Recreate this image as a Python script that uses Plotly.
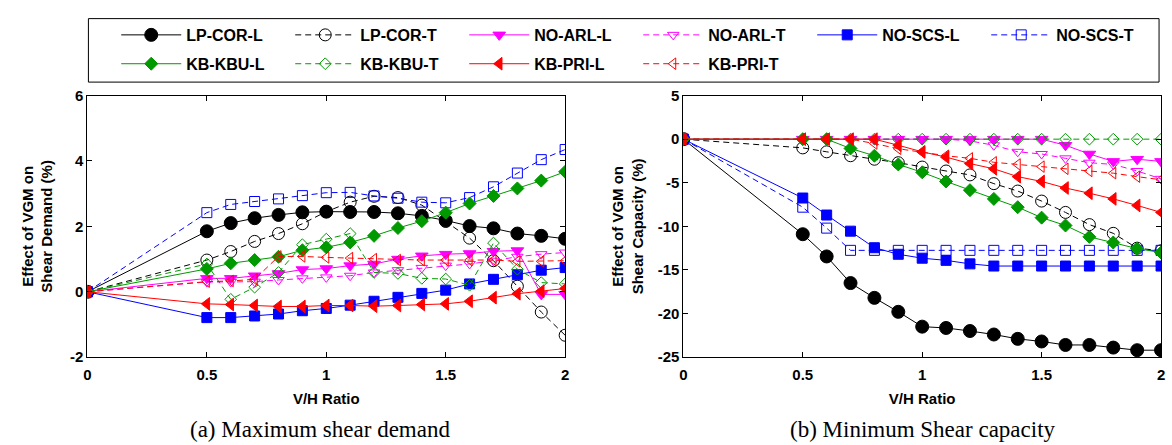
import plotly.graph_objects as go

# ---------------- data ----------------
vh = [0, 0.5, 0.6, 0.7, 0.8, 0.9, 1.0, 1.1, 1.2, 1.3, 1.4, 1.5, 1.6, 1.7, 1.8, 1.9, 2.0]

names = ["LP-COR-L", "LP-COR-T", "NO-ARL-L", "NO-ARL-T", "NO-SCS-L", "NO-SCS-T",
         "KB-KBU-L", "KB-KBU-T", "KB-PRI-L", "KB-PRI-T"]

x_ticks = [0, 0.5, 1, 1.5, 2]
demand_ticks = [-2, 0, 2, 4, 6]
capacity_ticks = [-25, -20, -15, -10, -5, 0, 5]

# (a) Maximum shear demand (%)
demand_lp_cor_l = [0, 1.85, 2.10, 2.25, 2.35, 2.43, 2.45, 2.44, 2.44, 2.40, 2.32, 2.18, 2.01, 1.94, 1.78, 1.71, 1.62]
demand_lp_cor_t = [0, 0.97, 1.23, 1.54, 1.78, 2.08, 2.45, 2.74, 2.92, 2.88, 2.65, 2.15, 1.64, 0.95, 0.17, -0.62, -1.33]
demand_no_arl_l = [0, 0.41, 0.41, 0.49, 0.56, 0.68, 0.71, 0.80, 0.85, 1.00, 1.10, 1.15, 1.17, 1.24, 1.26, -0.08, -0.08]
demand_no_arl_t = [0, 0.30, 0.30, 0.31, 0.36, 0.41, 0.44, 0.49, 0.59, 0.66, 0.73, 0.80, 0.85, 0.95, 1.07, 1.15, 1.20]
demand_no_scs_l = [0, -0.79, -0.79, -0.74, -0.68, -0.58, -0.51, -0.41, -0.29, -0.17, -0.05, 0.05, 0.24, 0.38, 0.52, 0.66, 0.74]
demand_no_scs_t = [0, 2.42, 2.67, 2.76, 2.84, 2.94, 3.03, 3.04, 2.93, 2.86, 2.74, 2.72, 2.88, 3.21, 3.63, 4.04, 4.35]
demand_kb_kbu_l = [0, 0.70, 0.87, 0.97, 1.07, 1.27, 1.36, 1.51, 1.71, 1.95, 2.16, 2.42, 2.70, 2.93, 3.16, 3.40, 3.67]
demand_kb_kbu_t = [0, 0.85, -0.23, 0.14, 0.59, 1.44, 1.61, 1.78, 0.59, 0.56, 0.41, 0.39, 0.20, 1.49, 0.69, 0.28, 0.24]
demand_kb_pri_l = [0, -0.37, -0.39, -0.42, -0.45, -0.45, -0.42, -0.42, -0.44, -0.42, -0.39, -0.37, -0.29, -0.18, -0.06, 0.02, 0.10]
demand_kb_pri_t = [0, 0.31, 0.33, 0.38, 1.08, 1.08, 1.05, 1.03, 1.00, 0.97, 0.97, 0.97, 0.97, 0.97, 0.93, 0.93, 0.95]

# (b) Minimum shear capacity (%)
capacity_lp_cor_l = [0, -10.9, -13.45, -16.5, -18.2, -19.8, -21.5, -21.65, -22.0, -22.4, -22.9, -23.2, -23.6, -23.6, -23.9, -24.2, -24.2]
capacity_lp_cor_t = [0, -1.0, -1.45, -1.9, -2.3, -2.7, -3.2, -3.65, -4.1, -5.1, -5.95, -7.1, -8.4, -9.8, -10.8, -12.5, -12.8]
capacity_no_arl_l = [0, 0, 0, 0, 0, 0, 0, 0, 0, 0, 0, 0, -0.7, -1.7, -2.55, -2.3, -2.55]
capacity_no_arl_t = [0, 0, 0, 0, 0, 0, 0, 0, -0.2, -0.7, -1.45, -1.7, -2.2, -2.7, -2.9, -3.65, -4.55]
capacity_no_scs_l = [0, -6.75, -8.7, -10.55, -12.45, -13.2, -13.65, -13.9, -14.3, -14.55, -14.55, -14.55, -14.55, -14.55, -14.55, -14.55, -14.55]
capacity_no_scs_t = [0, -7.8, -10.2, -12.75, -12.75, -12.75, -12.75, -12.75, -12.75, -12.75, -12.75, -12.75, -12.75, -12.75, -12.75, -12.75, -12.75]
capacity_kb_kbu_l = [0, 0, 0, -1.07, -1.9, -2.9, -3.8, -4.85, -5.85, -6.85, -7.8, -9.0, -9.9, -11.2, -11.85, -12.55, -13.0]
capacity_kb_kbu_t = [0, 0, 0, 0, 0, 0, 0, 0, 0, 0, 0, 0, 0, 0, 0, 0, 0]
capacity_kb_pri_l = [0, 0, 0, 0, 0, -0.7, -1.45, -2.06, -2.8, -3.4, -4.3, -4.85, -5.6, -6.2, -6.85, -7.6, -8.4]
capacity_kb_pri_t = [0, 0, 0, 0, -0.5, -1.1, -1.5, -1.9, -2.2, -2.65, -2.9, -3.15, -3.4, -3.65, -3.9, -4.3, -4.65]

demand = [demand_lp_cor_l, demand_lp_cor_t, demand_no_arl_l, demand_no_arl_t, demand_no_scs_l,
          demand_no_scs_t, demand_kb_kbu_l, demand_kb_kbu_t, demand_kb_pri_l, demand_kb_pri_t]
capacity = [capacity_lp_cor_l, capacity_lp_cor_t, capacity_no_arl_l, capacity_no_arl_t, capacity_no_scs_l,
            capacity_no_scs_t, capacity_kb_kbu_l, capacity_kb_kbu_t, capacity_kb_pri_l, capacity_kb_pri_t]

# ---------------- styles ----------------
colors = ["#000000", "#000000", "#ff00ff", "#ff00ff", "#0000ff", "#0000ff",
          "#009900", "#009900", "#ff0000", "#ff0000"]
symbols = ["circle", "circle-open", "triangle-down", "triangle-down-open", "square", "square-open",
           "diamond", "diamond-open", "triangle-left", "triangle-left-open"]
sizes = [13, 12, 11, 10, 10, 10, 10, 9, 11, 10]
DASH = "6px,4px"

W, H = 1172, 445
def px(x):
    return x / W
def py(y):
    return 1 - y / H

def labels(vals):
    return [f"{v:g}" for v in vals]

FONT = "Liberation Sans, Arial, sans-serif"

fig = go.Figure()

for i, nm in enumerate(names):
    dashed = nm.endswith("-T")
    line = dict(color=colors[i], width=1, dash=DASH if dashed else "solid")
    marker = dict(symbol=symbols[i], size=sizes[i], color=colors[i],
                  line=dict(color=colors[i], width=1))
    fig.add_trace(go.Scatter(x=vh, y=demand[i], name=nm, mode="lines+markers",
                             line=line, marker=marker, xaxis="x", yaxis="y",
                             legend="legend" if i < 6 else "legend2"))
for i, nm in enumerate(names):
    dashed = nm.endswith("-T")
    line = dict(color=colors[i], width=1, dash=DASH if dashed else "solid")
    marker = dict(symbol=symbols[i], size=sizes[i], color=colors[i],
                  line=dict(color=colors[i], width=1))
    fig.add_trace(go.Scatter(x=vh, y=capacity[i], name=nm, mode="lines+markers",
                             line=line, marker=marker, xaxis="x2", yaxis="y2",
                             showlegend=False))

tickfont = dict(family=FONT, size=15, color="black", weight="bold")
titlefont = dict(family=FONT, size=15, color="black", weight="bold")
legfont = dict(family=FONT, size=16, color="black", weight="bold")
axis_common = dict(showline=True, linecolor="black", linewidth=1, mirror="ticks",
                   ticks="inside", ticklen=5, tickcolor="black", showgrid=False,
                   zeroline=False, tickfont=tickfont)

fig.update_layout(
    width=W, height=H,
    margin=dict(l=0, r=0, t=0, b=0),
    paper_bgcolor="white", plot_bgcolor="white",
    xaxis=dict(domain=[px(84), px(565)], range=[0, 2], tickvals=x_ticks, ticktext=labels(x_ticks),
               ticklabelstandoff=4,
               title=dict(text="V/H Ratio", font=titlefont, standoff=11), anchor="y", **axis_common),
    yaxis=dict(domain=[py(362), py(90)], range=[-2, 6], tickvals=demand_ticks, ticktext=labels(demand_ticks),
               title=dict(text="Effect of VGM on<br>Shear Demand (%)", font=titlefont, standoff=13),
               anchor="x", **axis_common),
    xaxis2=dict(domain=[px(684), px(1165)], range=[0, 2], tickvals=x_ticks, ticktext=labels(x_ticks),
                ticklabelstandoff=4,
                title=dict(text="V/H Ratio", font=titlefont, standoff=11), anchor="y2", **axis_common),
    yaxis2=dict(domain=[py(362), py(90)], range=[-25, 5], tickvals=capacity_ticks, ticktext=labels(capacity_ticks),
                title=dict(text="Effect of VGM on<br>Shear Capacity (%)", font=titlefont, standoff=10),
                anchor="x2", **axis_common),
    legend=dict(orientation="h", x=px(113), y=py(27), xanchor="left", yanchor="middle",
                entrywidth=99, entrywidthmode="pixels", itemwidth=60,
                font=legfont, bgcolor="rgba(0,0,0,0)", borderwidth=0),
    legend2=dict(orientation="h", x=px(113), y=py(57), xanchor="left", yanchor="middle",
                 entrywidth=99, entrywidthmode="pixels", itemwidth=60,
                 font=legfont, bgcolor="rgba(0,0,0,0)", borderwidth=0),
    shapes=[dict(type="rect", xref="paper", yref="paper",
                 x0=px(85), x1=px(1163), y0=py(76), y1=py(10),
                 line=dict(color="black", width=1), fillcolor="rgba(0,0,0,0)")],
    annotations=[
        dict(text="(a) Maximum shear demand", x=px(318), y=py(437), xref="paper", yref="paper",
             showarrow=False, xanchor="center", yanchor="middle",
             font=dict(family="Liberation Serif, Times New Roman, serif", size=23, color="black")),
        dict(text="(b) Minimum Shear capacity", x=px(925), y=py(437), xref="paper", yref="paper",
             showarrow=False, xanchor="center", yanchor="middle",
             font=dict(family="Liberation Serif, Times New Roman, serif", size=23, color="black")),
    ],
)

fig.write_html("out.html")
